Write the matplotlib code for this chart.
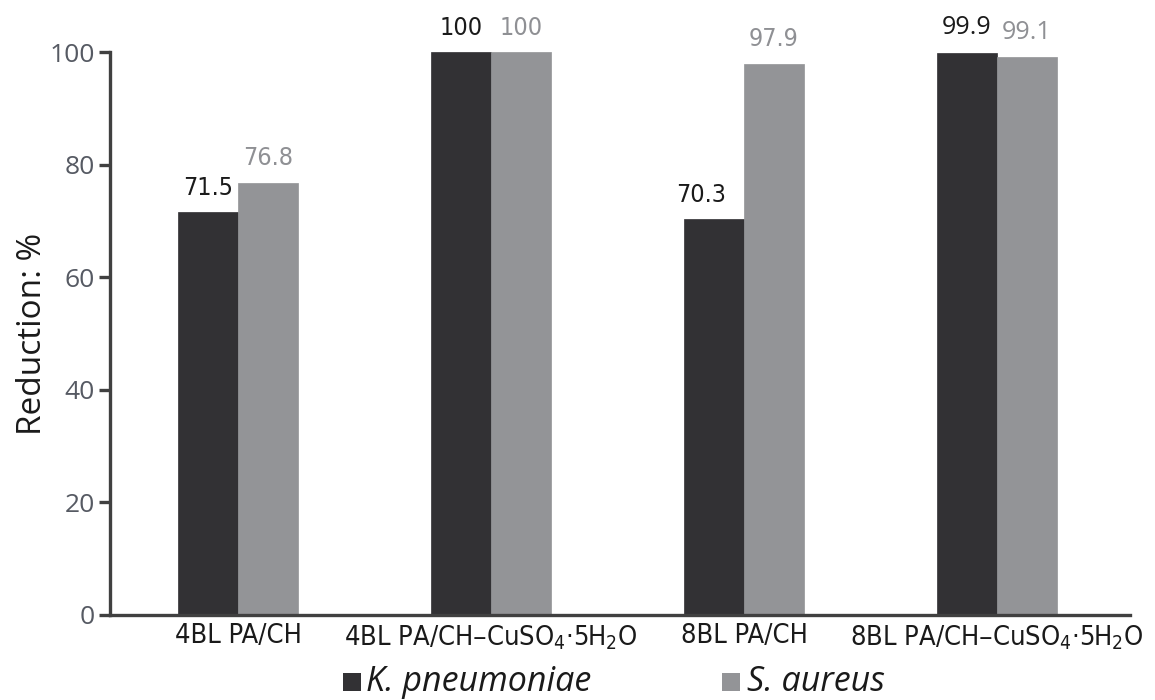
import matplotlib
matplotlib.use("Agg")
import matplotlib.pyplot as plt
import numpy as np
from matplotlib import font_manager
from matplotlib.patches import Rectangle

plt.rcParams['mathtext.default'] = 'regular'

categories = ["4BL PA/CH", "4BL PA/CH\u2013CuSO$_4$\u00b75H$_2$O",
              "8BL PA/CH", "8BL PA/CH\u2013CuSO$_4$\u00b75H$_2$O"]
k_pneumoniae = [71.5, 100, 70.3, 99.9]
s_aureus = [76.8, 100, 97.9, 99.1]
series_names = ["K. pneumoniae", "S. aureus"]

names = {f.name for f in font_manager.fontManager.ttflist}
if "DejaVu Sans Condensed" in names:
    narrow = dict(family="DejaVu Sans Condensed")
else:
    narrow = dict(family="DejaVu Sans", fontstretch="condensed")
main_font = "Open Sans" if "Open Sans" in names else "DejaVu Sans"

dark = "#323134"
grey = "#939497"
axis_col = "#404040"
tick_col = "#565a63"

W, H = 1155, 700
fig = plt.figure(figsize=(W/100, H/100), dpi=100)
ax = fig.add_axes([110/W, 85/H, (1130-110)/W, (615-52)/H])

x = np.arange(len(categories))
w = 0.237
ax.bar(x - w/2, k_pneumoniae, width=w, color=dark, edgecolor=dark, linewidth=0.5)
ax.bar(x + w/2, s_aureus, width=w, color=grey, edgecolor=grey, linewidth=0.5)

ax.set_xlim(-0.506, 3.526)
ax.set_ylim(0, 100)

# value labels; the last group is set in the regular face
def label_font(i):
    return dict(family=main_font) if i == len(categories) - 1 else narrow

for i, (xi, v) in enumerate(zip(x, k_pneumoniae)):
    dx = -0.05 if v < 71 else 0.0
    ax.text(xi - w/2 + dx, v + 2.2, f"{v:g}", ha="center", va="bottom",
            fontsize=18, color="#1a1a1a", clip_on=False, **label_font(i))
for i, (xi, v) in enumerate(zip(x, s_aureus)):
    ax.text(xi + w/2, v + 2.2, f"{v:g}", ha="center", va="bottom",
            fontsize=18, color="#8f9094", clip_on=False, **label_font(i))

for side in ("top", "right"):
    ax.spines[side].set_visible(False)
for side in ("left", "bottom"):
    ax.spines[side].set_color(axis_col)
    ax.spines[side].set_linewidth(2.4)

ax.set_yticks([0, 20, 40, 60, 80, 100])
ax.tick_params(axis="y", length=8, width=2.4, color=axis_col, labelsize=19,
               labelcolor=tick_col, pad=3)
for lab in ax.get_yticklabels():
    lab.set_family(main_font)

ax.set_xticks(x)
ax.set_xticklabels(categories, fontsize=19.5, color="#1a1a1a", **narrow)
ax.tick_params(axis="x", length=0, pad=6)

ax.set_ylabel("Reduction: %", fontsize=24, family=main_font, color="#1a1a1a", labelpad=0)

# legend: square swatches followed by italic species names
base = 1 - 691/H
sq = 18
for (sx, tx), col, name in zip([(343, 366), (722, 747)], [dark, grey], series_names):
    fig.add_artist(Rectangle((sx/W, base), sq/W, sq/H, transform=fig.transFigure,
                             facecolor=col, edgecolor="none"))
    fig.text(tx/W, base, name, fontsize=24.5, style="italic", family=main_font,
             color="#1a1a1a", va="baseline", ha="left")

fig.savefig("out.png", dpi=100, facecolor="white")
